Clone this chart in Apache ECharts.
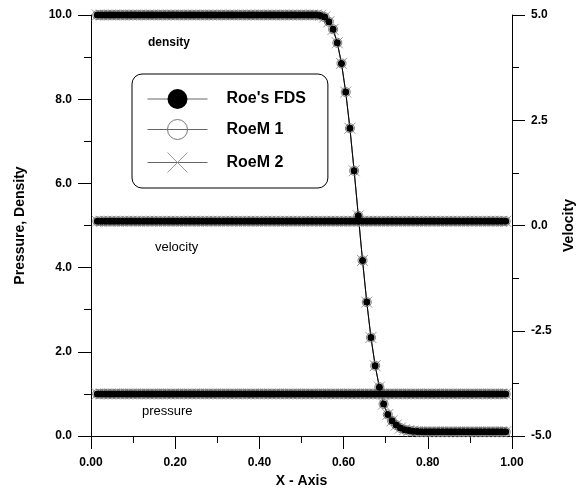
<!DOCTYPE html>
<html>
<head>
<meta charset="utf-8">
<script src="https://cdn.jsdelivr.net/npm/echarts@6/dist/echarts.min.js"></script>
<style>
  html, body { margin: 0; padding: 0; background: #fff; }
  #chart { width: 577px; height: 492px; }
</style>
</head>
<body>
<div id="chart"></div>
<script>
// cell centres along x
var xs = [
	0.015, 0.025, 0.035, 0.045, 0.055, 0.065, 0.075, 0.085, 0.095,
	0.105, 0.115, 0.125, 0.135, 0.145, 0.155, 0.165, 0.175, 0.185, 0.195,
	0.205, 0.215, 0.225, 0.235, 0.245, 0.255, 0.265, 0.275, 0.285, 0.295,
	0.305, 0.315, 0.325, 0.335, 0.345, 0.355, 0.365, 0.375, 0.385, 0.395,
	0.405, 0.415, 0.425, 0.435, 0.445, 0.455, 0.465, 0.475, 0.485, 0.495,
	0.505, 0.515, 0.525, 0.535, 0.545, 0.555, 0.565, 0.575, 0.585, 0.595,
	0.605, 0.615, 0.625, 0.635, 0.645, 0.655, 0.665, 0.675, 0.685, 0.695,
	0.705, 0.715, 0.725, 0.735, 0.745, 0.755, 0.765, 0.775, 0.785, 0.795,
	0.805, 0.815, 0.825, 0.835, 0.845, 0.855, 0.865, 0.875, 0.885, 0.895,
	0.905, 0.915, 0.925, 0.935, 0.945, 0.955, 0.965, 0.975, 0.985
];

var density = [
	10, 10, 10, 10, 10, 10, 10, 10, 10,
	10, 10, 10, 10, 10, 10, 10, 10, 10, 10,
	10, 10, 10, 10, 10, 10, 10, 10, 10, 10,
	10, 10, 10, 10, 10, 10, 10, 10, 10, 10,
	10, 10, 10, 10, 10, 10, 10, 10, 10, 10,
	10, 10, 10, 10, 9.99, 9.95, 9.84, 9.66, 9.34, 8.85,
	8.17, 7.31, 6.30, 5.23, 4.17, 3.18, 2.34, 1.67, 1.16, 0.76,
	0.51, 0.36, 0.26, 0.19, 0.15, 0.13, 0.115, 0.105, 0.1, 0.1,
	0.1, 0.1, 0.1, 0.1, 0.1, 0.1, 0.1, 0.1, 0.1, 0.1,
	0.1, 0.1, 0.1, 0.1, 0.1, 0.1, 0.1, 0.1, 0.1
];

var pressure = [
	1, 1, 1, 1, 1, 1, 1, 1, 1,
	1, 1, 1, 1, 1, 1, 1, 1, 1, 1,
	1, 1, 1, 1, 1, 1, 1, 1, 1, 1,
	1, 1, 1, 1, 1, 1, 1, 1, 1, 1,
	1, 1, 1, 1, 1, 1, 1, 1, 1, 1,
	1, 1, 1, 1, 1, 1, 1, 1, 1, 1,
	1, 1, 1, 1, 1, 1, 1, 1, 1, 1,
	1, 1, 1, 1, 1, 1, 1, 1, 1, 1,
	1, 1, 1, 1, 1, 1, 1, 1, 1, 1,
	1, 1, 1, 1, 1, 1, 1, 1, 1
];

var velocity = [
	0.1, 0.1, 0.1, 0.1, 0.1, 0.1, 0.1, 0.1, 0.1,
	0.1, 0.1, 0.1, 0.1, 0.1, 0.1, 0.1, 0.1, 0.1, 0.1,
	0.1, 0.1, 0.1, 0.1, 0.1, 0.1, 0.1, 0.1, 0.1, 0.1,
	0.1, 0.1, 0.1, 0.1, 0.1, 0.1, 0.1, 0.1, 0.1, 0.1,
	0.1, 0.1, 0.1, 0.1, 0.1, 0.1, 0.1, 0.1, 0.1, 0.1,
	0.1, 0.1, 0.1, 0.1, 0.1, 0.1, 0.1, 0.1, 0.1, 0.1,
	0.1, 0.1, 0.1, 0.1, 0.1, 0.1, 0.1, 0.1, 0.1, 0.1,
	0.1, 0.1, 0.1, 0.1, 0.1, 0.1, 0.1, 0.1, 0.1, 0.1,
	0.1, 0.1, 0.1, 0.1, 0.1, 0.1, 0.1, 0.1, 0.1, 0.1,
	0.1, 0.1, 0.1, 0.1, 0.1, 0.1, 0.1, 0.1, 0.1
];

var schemes = ["Roe's FDS", "RoeM 1", "RoeM 2"];

(function() {
	var myChart = echarts.init(document.getElementById("chart"));

	var font = "Liberation Sans, Arial, sans-serif";
	var crossPath = "path://M0,0L10,10M0,10L10,0";

	function pairs(ys) {
		return xs.map(function(x, i) { return [x, ys[i]]; });
	}

	var styles = {
		"Roe's FDS": { symbol: "circle", symbolSize: 7,
			itemStyle: { color: "#000" },
			lineStyle: { color: "#000", width: 1 } },
		"RoeM 1": { symbol: "circle", symbolSize: 9,
			itemStyle: { color: "none", borderColor: "#777", borderWidth: 1 },
			lineStyle: { color: "#888", width: 1 } },
		"RoeM 2": { symbol: crossPath, symbolSize: 11,
			itemStyle: { color: "none", borderColor: "#999", borderWidth: 1 },
			lineStyle: { color: "#888", width: 1 } }
	};

	var vars = [
		{ data: density, axis: 0 },
		{ data: velocity, axis: 1 },
		{ data: pressure, axis: 0 }
	];

	// draw RoeM 2 first so the filled FDS markers end up on top
	var series = [];
	["RoeM 2", "RoeM 1", "Roe's FDS"].forEach(function(name) {
		var s = styles[name];
		vars.forEach(function(v) {
			series.push({
				name: name,
				type: "line",
				yAxisIndex: v.axis,
				data: pairs(v.data),
				symbol: s.symbol,
				symbolSize: s.symbolSize,
				showAllSymbol: true,
				itemStyle: s.itemStyle,
				lineStyle: s.lineStyle,
				emphasis: { disabled: true },
				silent: true
			});
		});
	});

	var tickLabel = { color: "#000", fontFamily: font, fontWeight: "bold", fontSize: 12 };
	var axisLine = { show: true, lineStyle: { color: "#000", width: 1 } };
	var nameStyle = { color: "#000", fontFamily: font, fontWeight: "bold", fontSize: 14 };

	var option = {
		animation: false,
		backgroundColor: "#fff",
		grid: { left: 91, right: 65, top: 15, bottom: 56, containLabel: false, outerBoundsMode: "none" },
		legend: {
			data: schemes,
			orient: "vertical",
			left: 132,
			top: 74,
			itemWidth: 60,
			itemHeight: 25,
			itemGap: 8,
			padding: [15, 22, 13, 15],
			borderColor: "#000",
			borderWidth: 1,
			borderRadius: 10,
			backgroundColor: "#fff",
			selectedMode: false,
			itemStyle: { borderWidth: 1 },
			lineStyle: { color: "#666", width: 1 },
			textStyle: { color: "#000", fontFamily: font, fontWeight: "bold", fontSize: 16, padding: [0, 0, 0, 14] }
		},
		xAxis: {
			type: "value",
			min: 0,
			max: 1,
			interval: 0.2,
			name: "X - Axis",
			nameLocation: "middle",
			nameGap: 37,
			nameTextStyle: nameStyle,
			axisLine: axisLine,
			axisTick: { show: true, length: 13, lineStyle: { color: "#000" } },
			minorTick: { show: true, splitNumber: 2, length: 7, lineStyle: { color: "#000" } },
			splitLine: { show: false },
			axisLabel: Object.assign({ margin: 21, formatter: function(v) { return v.toFixed(2); } }, tickLabel)
		},
		yAxis: [
			{
				type: "value",
				min: 0,
				max: 10,
				interval: 2,
				position: "left",
				name: "Pressure, Density",
				nameLocation: "middle",
				nameGap: 64,
				nameTextStyle: nameStyle,
				axisLine: axisLine,
				axisTick: { show: true, length: 13, lineStyle: { color: "#000" } },
				minorTick: { show: true, splitNumber: 2, length: 7, lineStyle: { color: "#000" } },
				splitLine: { show: false },
				axisLabel: Object.assign({ margin: 19, formatter: function(v) { return v.toFixed(1); } }, tickLabel)
			},
			{
				type: "value",
				min: -5,
				max: 5,
				interval: 2.5,
				position: "right",
				name: "Velocity",
				nameLocation: "middle",
				nameGap: 43,
				nameTextStyle: nameStyle,
				axisLine: axisLine,
				axisTick: { show: true, length: 13, lineStyle: { color: "#000" } },
				minorTick: { show: true, splitNumber: 2, length: 7, lineStyle: { color: "#000" } },
				splitLine: { show: false },
				axisLabel: Object.assign({ margin: 19, formatter: function(v) { return v.toFixed(1); } }, tickLabel)
			}
		],
		graphic: [
			{ type: "text", left: 148, top: 37,
				style: { text: "density", fill: "#000", font: "bold 12px " + font } },
			{ type: "text", left: 155, top: 241,
				style: { text: "velocity", fill: "#000", font: "13px " + font } },
			{ type: "text", left: 142, top: 405,
				style: { text: "pressure", fill: "#000", font: "13px " + font } }
		],
		series: series
	};

	myChart.setOption(option);

	window.addEventListener("resize", function() {
		myChart.resize();
	});
})();
</script>
</body>
</html>
